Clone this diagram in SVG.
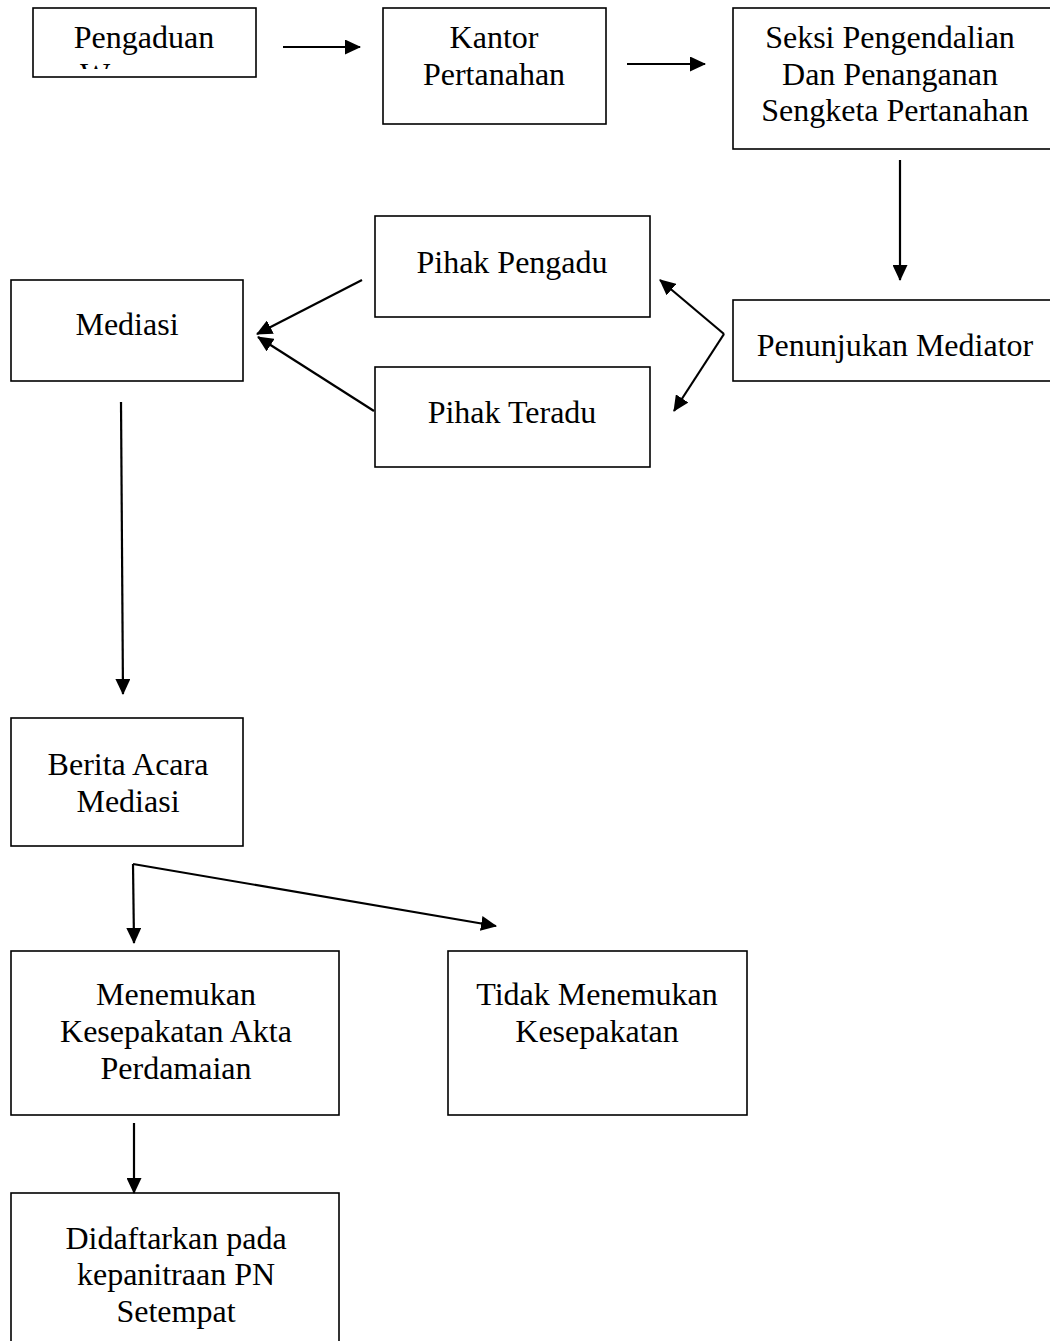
<svg xmlns="http://www.w3.org/2000/svg" width="1050" height="1341" viewBox="0 0 1050 1341">
<style>
.box{fill:#fff;stroke:#000;stroke-width:1.6}
.t{font-family:'Liberation Serif',serif;font-size:32px;fill:#000;text-anchor:middle}
.c{fill:none;stroke:#000;stroke-width:2.2}
</style>
<defs>
<marker id="ah" markerUnits="userSpaceOnUse" markerWidth="16" markerHeight="15" refX="15" refY="7.5" orient="auto" viewBox="0 0 16 15">
<path d="M0,0 L16,7.5 L0,15 z" fill="#000"/>
</marker>
<clipPath id="clipW"><rect x="33" y="8" width="223" height="61"/></clipPath>
</defs>
<rect width="1050" height="1341" fill="#fff"/>
<g id="n-pengaduan">
<rect class="box" x="33" y="8" width="223" height="69"/>
<text class="t" x="144" y="48">Pengaduan</text>
<text class="t" x="95" y="85" clip-path="url(#clipW)">W</text>
</g>
<g id="n-kantor">
<rect class="box" x="383" y="8" width="223" height="116"/>
<text class="t" x="494" y="48">Kantor</text>
<text class="t" x="494" y="85">Pertanahan</text>
</g>
<g id="n-seksi">
<rect class="box" x="733" y="8" width="320" height="141"/>
<text class="t" x="890" y="48">Seksi Pengendalian</text>
<text class="t" x="890" y="85">Dan Penanganan</text>
<text class="t" x="895" y="121">Sengketa Pertanahan</text>
</g>
<g id="n-penunjukan">
<rect class="box" x="733" y="300" width="320" height="81"/>
<text class="t" x="895" y="356">Penunjukan Mediator</text>
</g>
<g id="n-pengadu">
<rect class="box" x="375" y="216" width="275" height="101"/>
<text class="t" x="512" y="273">Pihak Pengadu</text>
</g>
<g id="n-teradu">
<rect class="box" x="375" y="367" width="275" height="100"/>
<text class="t" x="512" y="423">Pihak Teradu</text>
</g>
<g id="n-mediasi">
<rect class="box" x="11" y="280" width="232" height="101"/>
<text class="t" x="127" y="335">Mediasi</text>
</g>
<g id="n-berita">
<rect class="box" x="11" y="718" width="232" height="128"/>
<text class="t" x="128" y="775">Berita Acara</text>
<text class="t" x="128" y="812">Mediasi</text>
</g>
<g id="n-menemukan">
<rect class="box" x="11" y="951" width="328" height="164"/>
<text class="t" x="176" y="1005">Menemukan</text>
<text class="t" x="176" y="1042">Kesepakatan Akta</text>
<text class="t" x="176" y="1079">Perdamaian</text>
</g>
<g id="n-tidak">
<rect class="box" x="448" y="951" width="299" height="164"/>
<text class="t" x="597" y="1005">Tidak Menemukan</text>
<text class="t" x="597" y="1042">Kesepakatan</text>
</g>
<g id="n-didaftarkan">
<rect class="box" x="11" y="1193" width="328" height="160"/>
<text class="t" x="176" y="1249">Didaftarkan pada</text>
<text class="t" x="176" y="1285">kepanitraan PN</text>
<text class="t" x="176" y="1322">Setempat</text>
</g>
<g id="connectors">
<line class="c" x1="283" y1="47" x2="360" y2="47" marker-end="url(#ah)"/>
<line class="c" x1="627" y1="64" x2="705" y2="64" marker-end="url(#ah)"/>
<line class="c" x1="900" y1="160" x2="900" y2="280" marker-end="url(#ah)"/>
<line class="c" x1="724" y1="334" x2="660" y2="280" marker-end="url(#ah)"/>
<line class="c" x1="724" y1="334" x2="674" y2="411" marker-end="url(#ah)"/>
<line class="c" x1="362" y1="280" x2="257" y2="334" marker-end="url(#ah)"/>
<line class="c" x1="374" y1="411" x2="258" y2="337" marker-end="url(#ah)"/>
<line class="c" x1="121" y1="402" x2="123" y2="694" marker-end="url(#ah)"/>
<line class="c" x1="133" y1="864" x2="134" y2="943" marker-end="url(#ah)"/>
<line class="c" x1="133" y1="864" x2="496" y2="926" marker-end="url(#ah)"/>
<line class="c" x1="134" y1="1123" x2="134" y2="1193" marker-end="url(#ah)"/>
</g>
</svg>
